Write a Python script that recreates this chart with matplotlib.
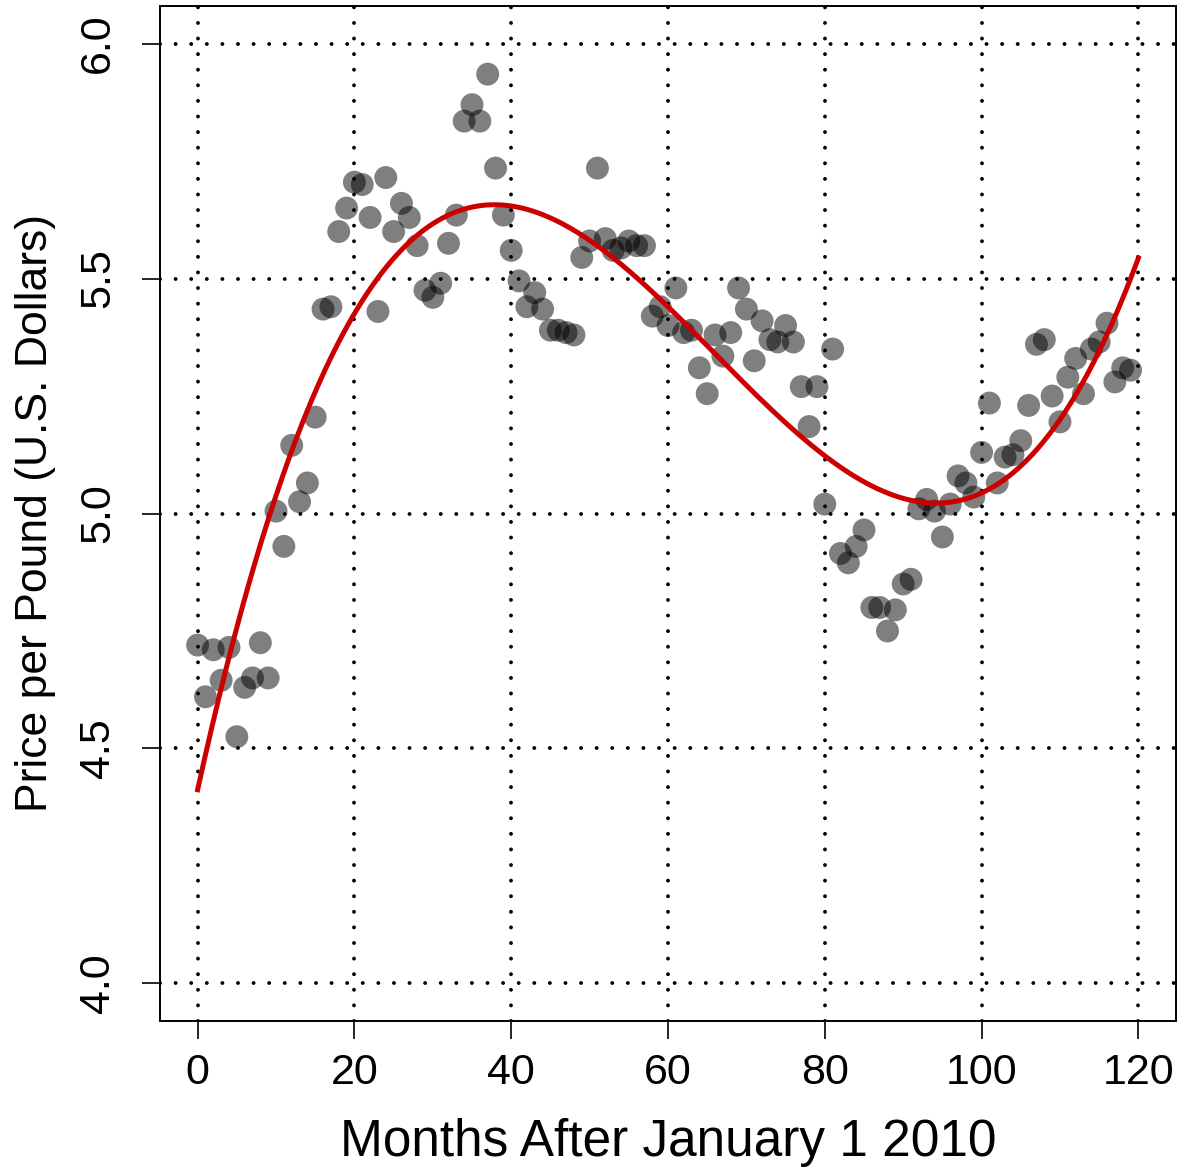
import numpy as np
from matplotlib import pyplot as plt

# monthly price per pound, months 0..119 after Jan 1 2010
months = np.arange(120)
price = [4.72, 4.61, 4.71, 4.645, 4.715, 4.525, 4.63, 4.65, 4.725, 4.65,
         5.005, 4.93, 5.145, 5.025, 5.065, 5.205, 5.435, 5.44, 5.60, 5.65,
         5.705, 5.70, 5.63, 5.43, 5.715, 5.60, 5.66, 5.63, 5.57, 5.475,
         5.46, 5.49, 5.575, 5.635, 5.835, 5.87, 5.835, 5.935, 5.735, 5.635,
         5.56, 5.495, 5.44, 5.47, 5.435, 5.39, 5.39, 5.385, 5.38, 5.545,
         5.58, 5.735, 5.585, 5.56, 5.565, 5.58, 5.57, 5.57, 5.42, 5.44,
         5.40, 5.48, 5.385, 5.39, 5.31, 5.255, 5.38, 5.335, 5.385, 5.48,
         5.435, 5.325, 5.41, 5.37, 5.365, 5.40, 5.365, 5.27, 5.185, 5.27,
         5.02, 5.35, 4.915, 4.895, 4.93, 4.965, 4.80, 4.80, 4.75, 4.795,
         4.85, 4.86, 5.01, 5.03, 5.005, 4.95, 5.02, 5.08, 5.065, 5.035,
         5.13, 5.235, 5.065, 5.12, 5.125, 5.155, 5.23, 5.36, 5.37, 5.25,
         5.195, 5.29, 5.33, 5.255, 5.35, 5.365, 5.405, 5.28, 5.31, 5.305]
xticks = [0, 20, 40, 60, 80, 100, 120]
yticks = [4.0, 4.5, 5.0, 5.5, 6.0]

plt.rcParams['font.family'] = ['Liberation Sans', 'DejaVu Sans']

fig = plt.figure(figsize=(11.81, 11.68), dpi=100)
ax = fig.add_axes([160 / 1181, 1 - 1021 / 1168, 1016 / 1181, 1015 / 1168])

# cubic trend fitted to the monthly prices
coef = np.polyfit(months, price, 3)
xs = np.linspace(0, 120, 400)

grid = dict(color='black', lw=2.8, linestyle=(0, (0.01, 4.0)),
            dash_capstyle='round', zorder=1)
for v in xticks:
    ax.axvline(v, **grid)
for v in yticks:
    ax.axhline(v, **grid)

ax.scatter(months, price, s=272, color='black', alpha=0.5,
           edgecolors='none', zorder=2)
ax.plot(xs, np.polyval(coef, xs), color='#CC0000', lw=3.6, zorder=3)

ax.set_xlim(-4.8, 124.8)
ax.set_ylim(3.92, 6.08)
ax.set_xticks(xticks)
ax.set_yticks(yticks)
ax.set_yticklabels(['%.1f' % v for v in yticks], rotation=90, va='center')
ax.tick_params(axis='both', labelsize=31, length=13, width=1.2,
               color='black')
ax.tick_params(axis='x', pad=10)
ax.tick_params(axis='y', pad=17)
for s in ax.spines.values():
    s.set_linewidth(1.4)

ax.set_xlabel('Months After January 1 2010', fontsize=37, labelpad=18)
ax.set_ylabel('Price per Pound (U.S. Dollars)', fontsize=32, labelpad=16)

fig.savefig('out.png', dpi=100)
